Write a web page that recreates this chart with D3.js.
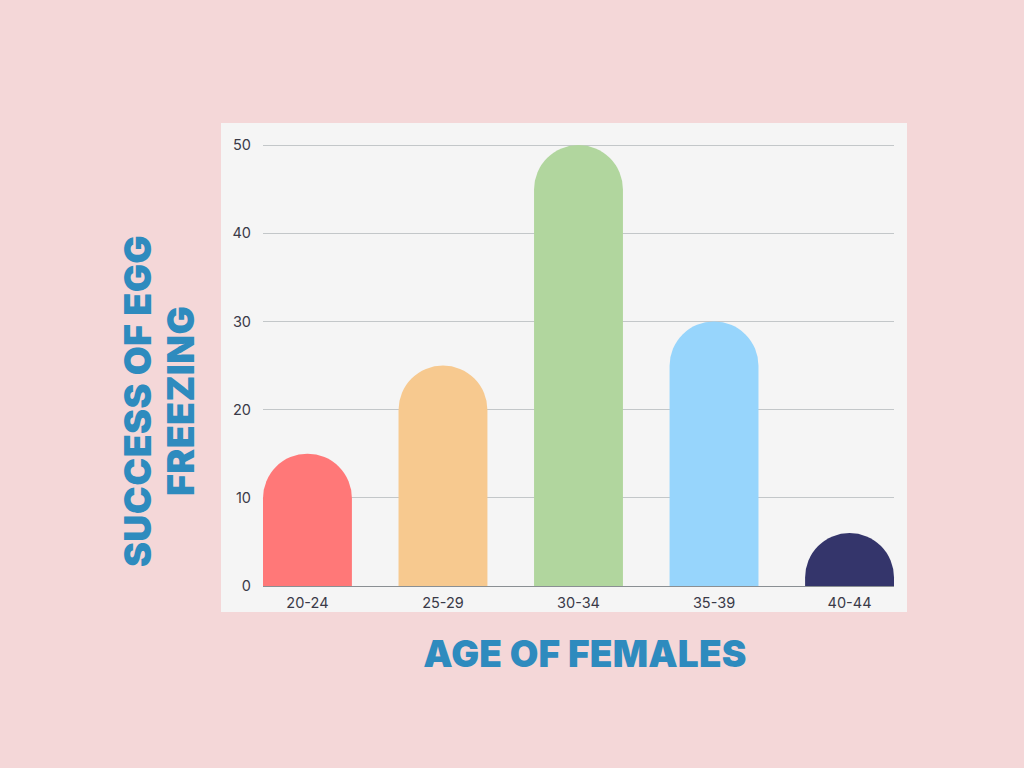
<!DOCTYPE html>
<html><head><meta charset="utf-8">
<script src="https://cdn.jsdelivr.net/npm/d3@7"></script>
<style>
html,body{margin:0;padding:0;background:#F4D7D8;}
svg{display:block;}
</style></head>
<body>
<script>
const categories = ["20-24","25-29","30-34","35-39","40-44"];
const values = [15, 25, 50, 30, 6];
const colors = ["#FF7878","#F7C98F","#B1D69E","#97D5FC","#34356B"];
const yTicks = [0,10,20,30,40,50];
const xTitle = "AGE OF FEMALES";
const yTitleLines = ["SUCCESS OF EGG","FREEZING"];

const W = 1024, H = 768;
const svg = d3.select("body").append("svg").attr("width",W).attr("height",H);
svg.append("rect").attr("width",W).attr("height",H).attr("fill","#F4D7D8");
svg.append("rect").attr("x",221).attr("y",123).attr("width",686).attr("height",489).attr("fill","#F5F5F5");

const x = d3.scaleBand().domain(categories).range([263,894]).paddingInner(0.344).paddingOuter(0);
const y = d3.scaleLinear().domain([0,50]).range([586,145]);

// grid
svg.append("g").selectAll("line").data(yTicks).join("line")
  .attr("x1",263).attr("x2",894)
  .attr("y1",d=>y(d)).attr("y2",d=>y(d))
  .attr("stroke",d=>d===0?"#8a8f93":"#C3C7C9").attr("stroke-width",1)
  .attr("shape-rendering","crispEdges");

const tickFont = "Inter, 'Noto Sans', sans-serif";
// y tick labels
const yAxis = d3.axisLeft(y).tickValues(yTicks).tickSize(0).tickPadding(0);
const gy = svg.append("g").attr("transform","translate(251,0)").call(yAxis);
gy.select(".domain").remove();
gy.selectAll("text").attr("font-family",tickFont).attr("font-size",14.5).attr("fill","#3a3a48");

// x tick labels
const xAxis = d3.axisBottom(x).tickSize(0).tickPadding(0);
const gx = svg.append("g").attr("transform","translate(0,598)").call(xAxis);
gx.select(".domain").remove();
gx.selectAll("text").attr("font-family",tickFont).attr("font-size",14.5).attr("fill","#3a3a48");

// bars with rounded tops
function barPath(x0, w, yTop, yBase){
  const r = w/2;
  const h = yBase - yTop;
  if (h <= r) {
    return `M${x0},${yBase} A${r},${h} 0 0 1 ${x0+w},${yBase} Z`;
  }
  return `M${x0},${yBase} L${x0},${yTop+r} A${r},${r} 0 0 1 ${x0+w},${yTop+r} L${x0+w},${yBase} Z`;
}
svg.append("g").selectAll("path").data(categories).join("path")
  .attr("d",(c,i)=>barPath(x(c), x.bandwidth(), y(values[i]), y(0)))
  .attr("fill",(c,i)=>colors[i]);

// titles
const titleFont = "Inter, 'Open Sans', sans-serif";
svg.append("text").attr("x",585).attr("y",667).attr("text-anchor","middle")
  .attr("font-family",titleFont).attr("font-weight",900).attr("font-size",37)
  .attr("fill","#2E8BBE").attr("letter-spacing",0.2).text(xTitle);

yTitleLines.forEach((t,i)=>{
  svg.append("text").attr("transform",`translate(${151+i*43},401) rotate(-90)`)
    .attr("text-anchor","middle")
    .attr("font-family",titleFont).attr("font-weight",900).attr("font-size",37.5)
    .attr("fill","#2E8BBE").attr("letter-spacing",0.4).text(t);
});
</script>
</body></html>
